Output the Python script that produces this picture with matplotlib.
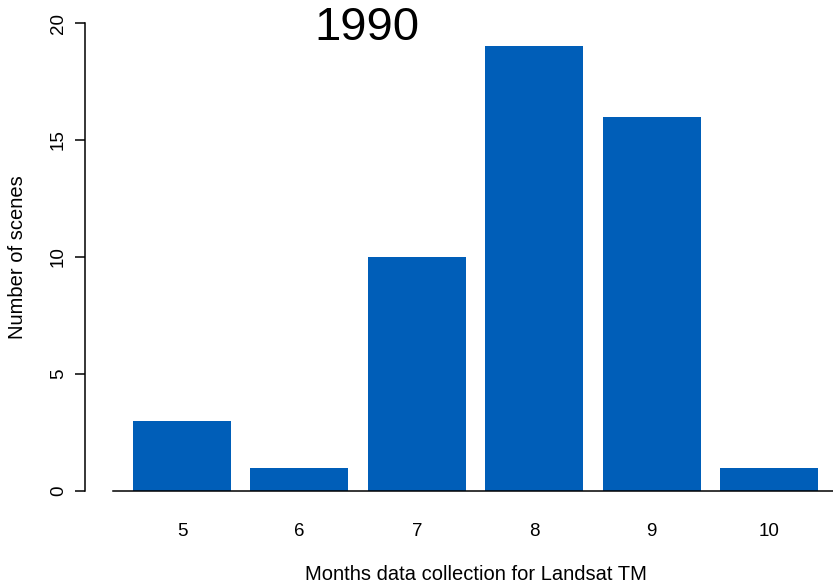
import numpy as np
import matplotlib.pyplot as plt

plt.rcParams['font.family'] = ['Liberation Sans', 'DejaVu Sans']

months = ['5', '6', '7', '8', '9', '10']
scenes = [3, 1, 10, 19, 16, 1]
yticks = [0, 5, 10, 15, 20]

# px -> pt at 100 dpi
PT = 0.72

fig = plt.figure(figsize=(8.33, 5.85), dpi=100)
ax = fig.add_axes([113 / 833, 94 / 585, 720 / 833, 468 / 585])

x = np.arange(len(months))
ax.bar(x, scenes, width=0.835, color='#005EB8', zorder=2)

ax.set_xlim(-0.588, 5.545)
ax.set_ylim(0, 20)

ax.spines['top'].set_visible(False)
ax.spines['right'].set_visible(False)
ax.spines['left'].set_position(('outward', 28 * PT))
ax.spines['left'].set_bounds(0, 20)
ax.spines['left'].set_linewidth(1.1)
ax.spines['bottom'].set_linewidth(1.1)
ax.spines['bottom'].set_zorder(3)

ax.set_yticks(yticks)
ax.set_yticklabels([str(t) for t in yticks], rotation=90, va='center', fontsize=13.5)
ax.tick_params(axis='y', length=10 * PT, width=1.1, pad=8 * PT)
ax.set_xticks(x)
ax.set_xticklabels(months, fontsize=13.5)
ax.tick_params(axis='x', length=0, pad=32 * PT)

fig.text(18 / 833, 1 - 257 / 585, 'Number of scenes', rotation=90,
         ha='center', va='center', fontsize=14.5)
fig.text(476 / 833, 1 - 575 / 585, 'Months data collection for Landsat TM',
         ha='center', va='center', fontsize=14.5)
fig.text(367 / 833, 1 - 28 / 585, '1990', ha='center', va='center', fontsize=34)

fig.savefig('out.png', dpi=100)
